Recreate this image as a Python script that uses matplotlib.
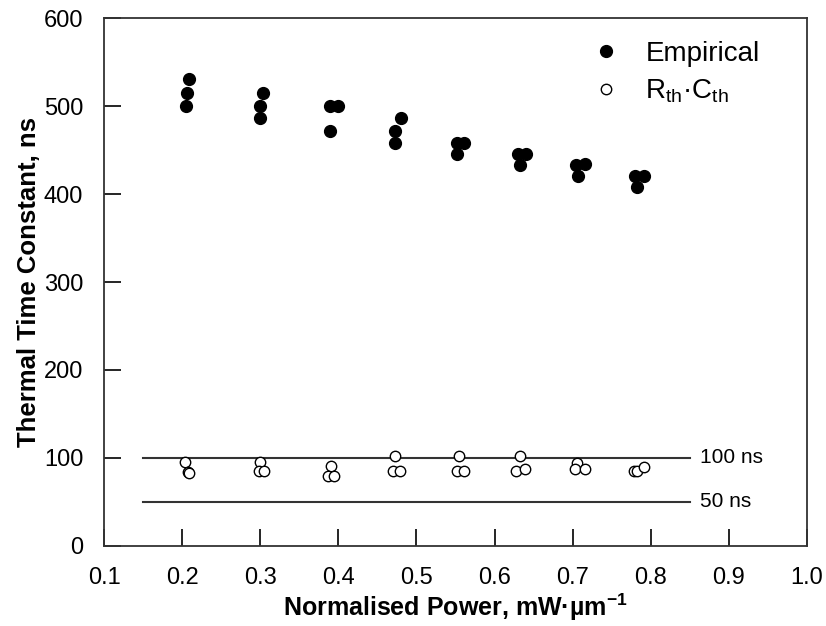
import matplotlib.pyplot as plt

plt.rcParams['font.family'] = ['Liberation Sans', 'DejaVu Sans']
plt.rcParams['mathtext.fontset'] = 'custom'
plt.rcParams['mathtext.rm'] = 'Liberation Sans'
plt.rcParams['mathtext.bf'] = 'Liberation Sans:bold'

# Empirical (filled)
emp_x = [0.205, 0.206, 0.209, 0.300, 0.300, 0.304, 0.389, 0.389, 0.399,
         0.473, 0.473, 0.480, 0.552, 0.552, 0.561, 0.633, 0.630, 0.640,
         0.707, 0.704, 0.716, 0.782, 0.780, 0.791]
emp_y = [500, 515, 531, 486, 500, 515, 472, 500, 500,
         458, 472, 487, 445, 458, 458, 433, 445, 445,
         420, 433, 434, 408, 420, 421]

# Rth*Cth (open)
rc_x = [0.204, 0.207, 0.209, 0.300, 0.298, 0.305, 0.390, 0.387, 0.394,
        0.473, 0.470, 0.479, 0.555, 0.552, 0.561, 0.633, 0.628, 0.639,
        0.706, 0.703, 0.716, 0.778, 0.782, 0.791]
rc_y = [95, 84, 83, 95, 85, 85, 91, 79, 79,
        102, 85, 85, 102, 85, 85, 102, 85, 87,
        94, 87, 87, 85, 85, 90]

ref_levels = [100, 50]
ref_labels = ["100 ns", "50 ns"]
ref_span = (0.15, 0.85)

fig = plt.figure(figsize=(8.26, 6.26), dpi=100)
ax = fig.add_axes([0.126, 0.128, 0.851, 0.843])

for lev, lab in zip(ref_levels, ref_labels):
    ax.plot(ref_span, [lev, lev], color="#333333", lw=1.5, zorder=1)
    ax.text(ref_span[1] + 0.013, lev, lab, fontsize=15, va="center", ha="left")

ax.plot(emp_x, emp_y, 'o', color="black", ms=8.5, ls="none", label="Empirical", zorder=3)
ax.plot(rc_x, rc_y, 'o', mfc="white", mec="black", mew=1.0, ms=7.5, ls="none",
        label=r"R$_{\mathrm{th}}$·C$_{\mathrm{th}}$", zorder=3)

ax.set_xlim(0.1, 1.0)
ax.set_ylim(0, 600)
ax.set_xticks([0.1, 0.2, 0.3, 0.4, 0.5, 0.6, 0.7, 0.8, 0.9, 1.0])
ax.set_xticklabels(["0.1", "0.2", "0.3", "0.4", "0.5", "0.6", "0.7", "0.8", "0.9", "1.0"])
ax.set_yticks([0, 100, 200, 300, 400, 500, 600])
ax.tick_params(direction="in", length=12, width=1.2, labelsize=17, pad=15)
for s in ax.spines.values():
    s.set_linewidth(1.3)
    s.set_color("#333333")

ax.set_xlabel(r"Normalised Power, mW·µm$^{\mathbf{-1}}$", fontsize=18, fontweight="bold", labelpad=2)
ax.set_ylabel("Thermal Time Constant, ns", fontsize=18.5, fontweight="bold", labelpad=2)

ax.legend(loc="upper right", bbox_to_anchor=(0.968, 1.005), frameon=False, fontsize=20,
          handletextpad=0.9, labelspacing=0.4, handlelength=1.0)

fig.savefig("out.png", dpi=100)
